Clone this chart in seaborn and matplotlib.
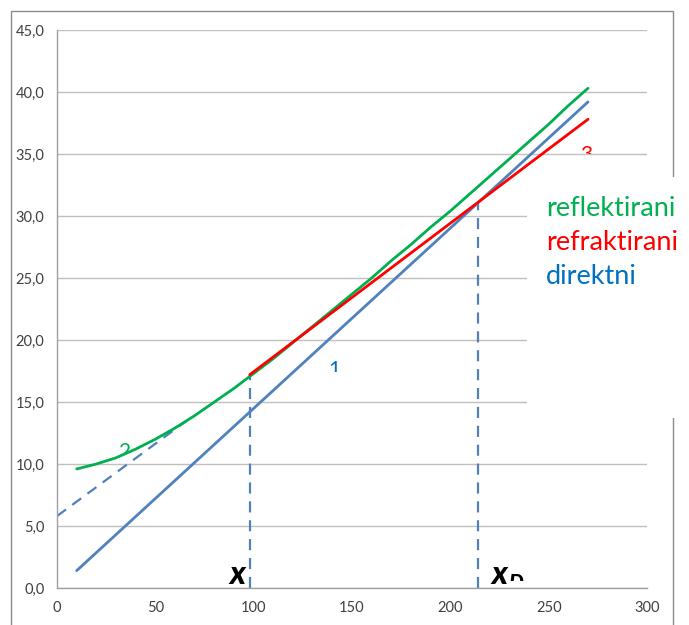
import numpy as np
import pandas as pd
import matplotlib
matplotlib.use('Agg')
import matplotlib.pyplot as plt
from matplotlib.patches import Rectangle
from matplotlib.transforms import Bbox, TransformedBbox
import seaborn as sns

# --- data ---
x_direct = [10, 270]
t_direct = [1.4, 39.2]

x_refl = [10, 20, 30, 40, 50, 60, 70, 80, 90, 100, 110, 120, 130, 140,
          150, 160, 170, 180, 190, 200, 210, 220, 230, 240, 250, 260, 270]
t_refl = [9.6, 10.0, 10.5, 11.2, 12.0, 12.9, 13.9, 15.0, 16.1, 17.3, 18.5,
          19.8, 21.1, 22.4, 23.7, 25.0, 26.4, 27.7, 29.1, 30.4, 31.8, 33.2,
          34.6, 36.0, 37.4, 38.9, 40.3]

x_refr = [98, 270]
t_refr = [17.2, 37.8]

x_ext = [0, 66]
t_ext = [5.8, 13.5]

x_cross = [98, 214]
t_cross = [17.2, 31.1]

x_ticks = [0, 50, 100, 150, 200, 250, 300]
y_ticks = [0, 5, 10, 15, 20, 25, 30, 35, 40, 45]

legend_labels = ['reflektirani', 'refraktirani', 'direktni']

BLUE = '#4F81BD'
GREEN = '#00B050'
RED = '#FF0000'
LBLUE = '#0070C0'

sns.set_style('white')
plt.rcParams['font.family'] = ['Lato', 'DejaVu Sans']

fig = plt.figure(figsize=(6.89, 6.25), dpi=100)
ax = fig.add_axes([57 / 689, 37 / 625, 590 / 689, 558 / 625])

# outer chart border
fig.patches.append(Rectangle((11 / 689, -0.05), 662 / 689, (625 - 11) / 625 + 0.05,
                             transform=fig.transFigure, fill=False,
                             edgecolor='#8c8c8c', linewidth=1.0, zorder=0))

sns.lineplot(x=x_ext, y=t_ext, ax=ax, color=BLUE, linewidth=1.6,
             linestyle=(0, (5, 3.5)), zorder=2)
sns.lineplot(x=x_direct, y=t_direct, ax=ax, color=BLUE, linewidth=2.0, zorder=3)
sns.lineplot(x=x_refl, y=t_refl, ax=ax, color=GREEN, linewidth=2.0, zorder=4)
sns.lineplot(x=x_refr, y=t_refr, ax=ax, color=RED, linewidth=2.0, zorder=5)
ax.vlines(x_cross, 0, t_cross, colors=BLUE, linewidth=1.6,
          linestyles=(0, (5, 3.5)), zorder=2)

ax.set_xlim(0, 300)
ax.set_ylim(0, 45)
ax.set_xticks(x_ticks)
ax.set_yticks(y_ticks)
ax.set_yticklabels([f'{v:.1f}'.replace('.', ',') for v in y_ticks])
ax.tick_params(axis='both', labelsize=10.5, colors='#404040', length=5,
               width=1, direction='out', pad=4)
ax.tick_params(axis='both', color='#a0a0a0')
ax.yaxis.grid(True, color='#c0c0c0', linewidth=1)
ax.set_axisbelow(True)
for s in ['top', 'right']:
    ax.spines[s].set_visible(False)
for s in ['left', 'bottom']:
    ax.spines[s].set_color('#a0a0a0')
    ax.spines[s].set_linewidth(1)
ax.set_xlabel('')
ax.set_ylabel('')


def clipped(x, y, s, y_cut, **kw):
    t = ax.text(x, y, s, **kw)
    t.set_clip_box(TransformedBbox(Bbox([[-50, y_cut], [400, 60]]), ax.transData))
    t.set_clip_on(True)
    return t


clipped(141, 18.4, '1', 17.4, color=LBLUE, fontsize=15, ha='center', va='top')
clipped(34.6, 11.8, '2', 10.9, color=GREEN, fontsize=15, ha='center', va='top')
clipped(269, 35.7, '3', 35.0, color=RED, fontsize=15, ha='center', va='top')
ax.text(91.5, 0.35, 'x', fontsize=23, fontweight='black', fontstyle='italic',
        ha='center', va='baseline', color='black')
clipped(225, 0.35, 'x', -1, fontsize=23, fontweight='black', fontstyle='italic',
        ha='center', va='baseline', color='black')
clipped(233, 1.2, 'D', 0.6, fontsize=15, fontweight='black', fontstyle='italic',
        ha='center', va='top', color='black')

# legend box (white panel over the right edge)
fig.patches.append(Rectangle((527 / 689, (625 - 418) / 625), 162 / 689, 241 / 625,
                             transform=fig.transFigure, facecolor='white',
                             edgecolor='none', zorder=10))
for i, (lab, col) in enumerate(zip(legend_labels, [GREEN, RED, LBLUE])):
    fig.text(546 / 689, (625 - 209 - i * 34) / 625, lab, color=col, fontsize=19.5,
             ha='left', va='center', zorder=11)

fig.savefig('out.png', dpi=100)
